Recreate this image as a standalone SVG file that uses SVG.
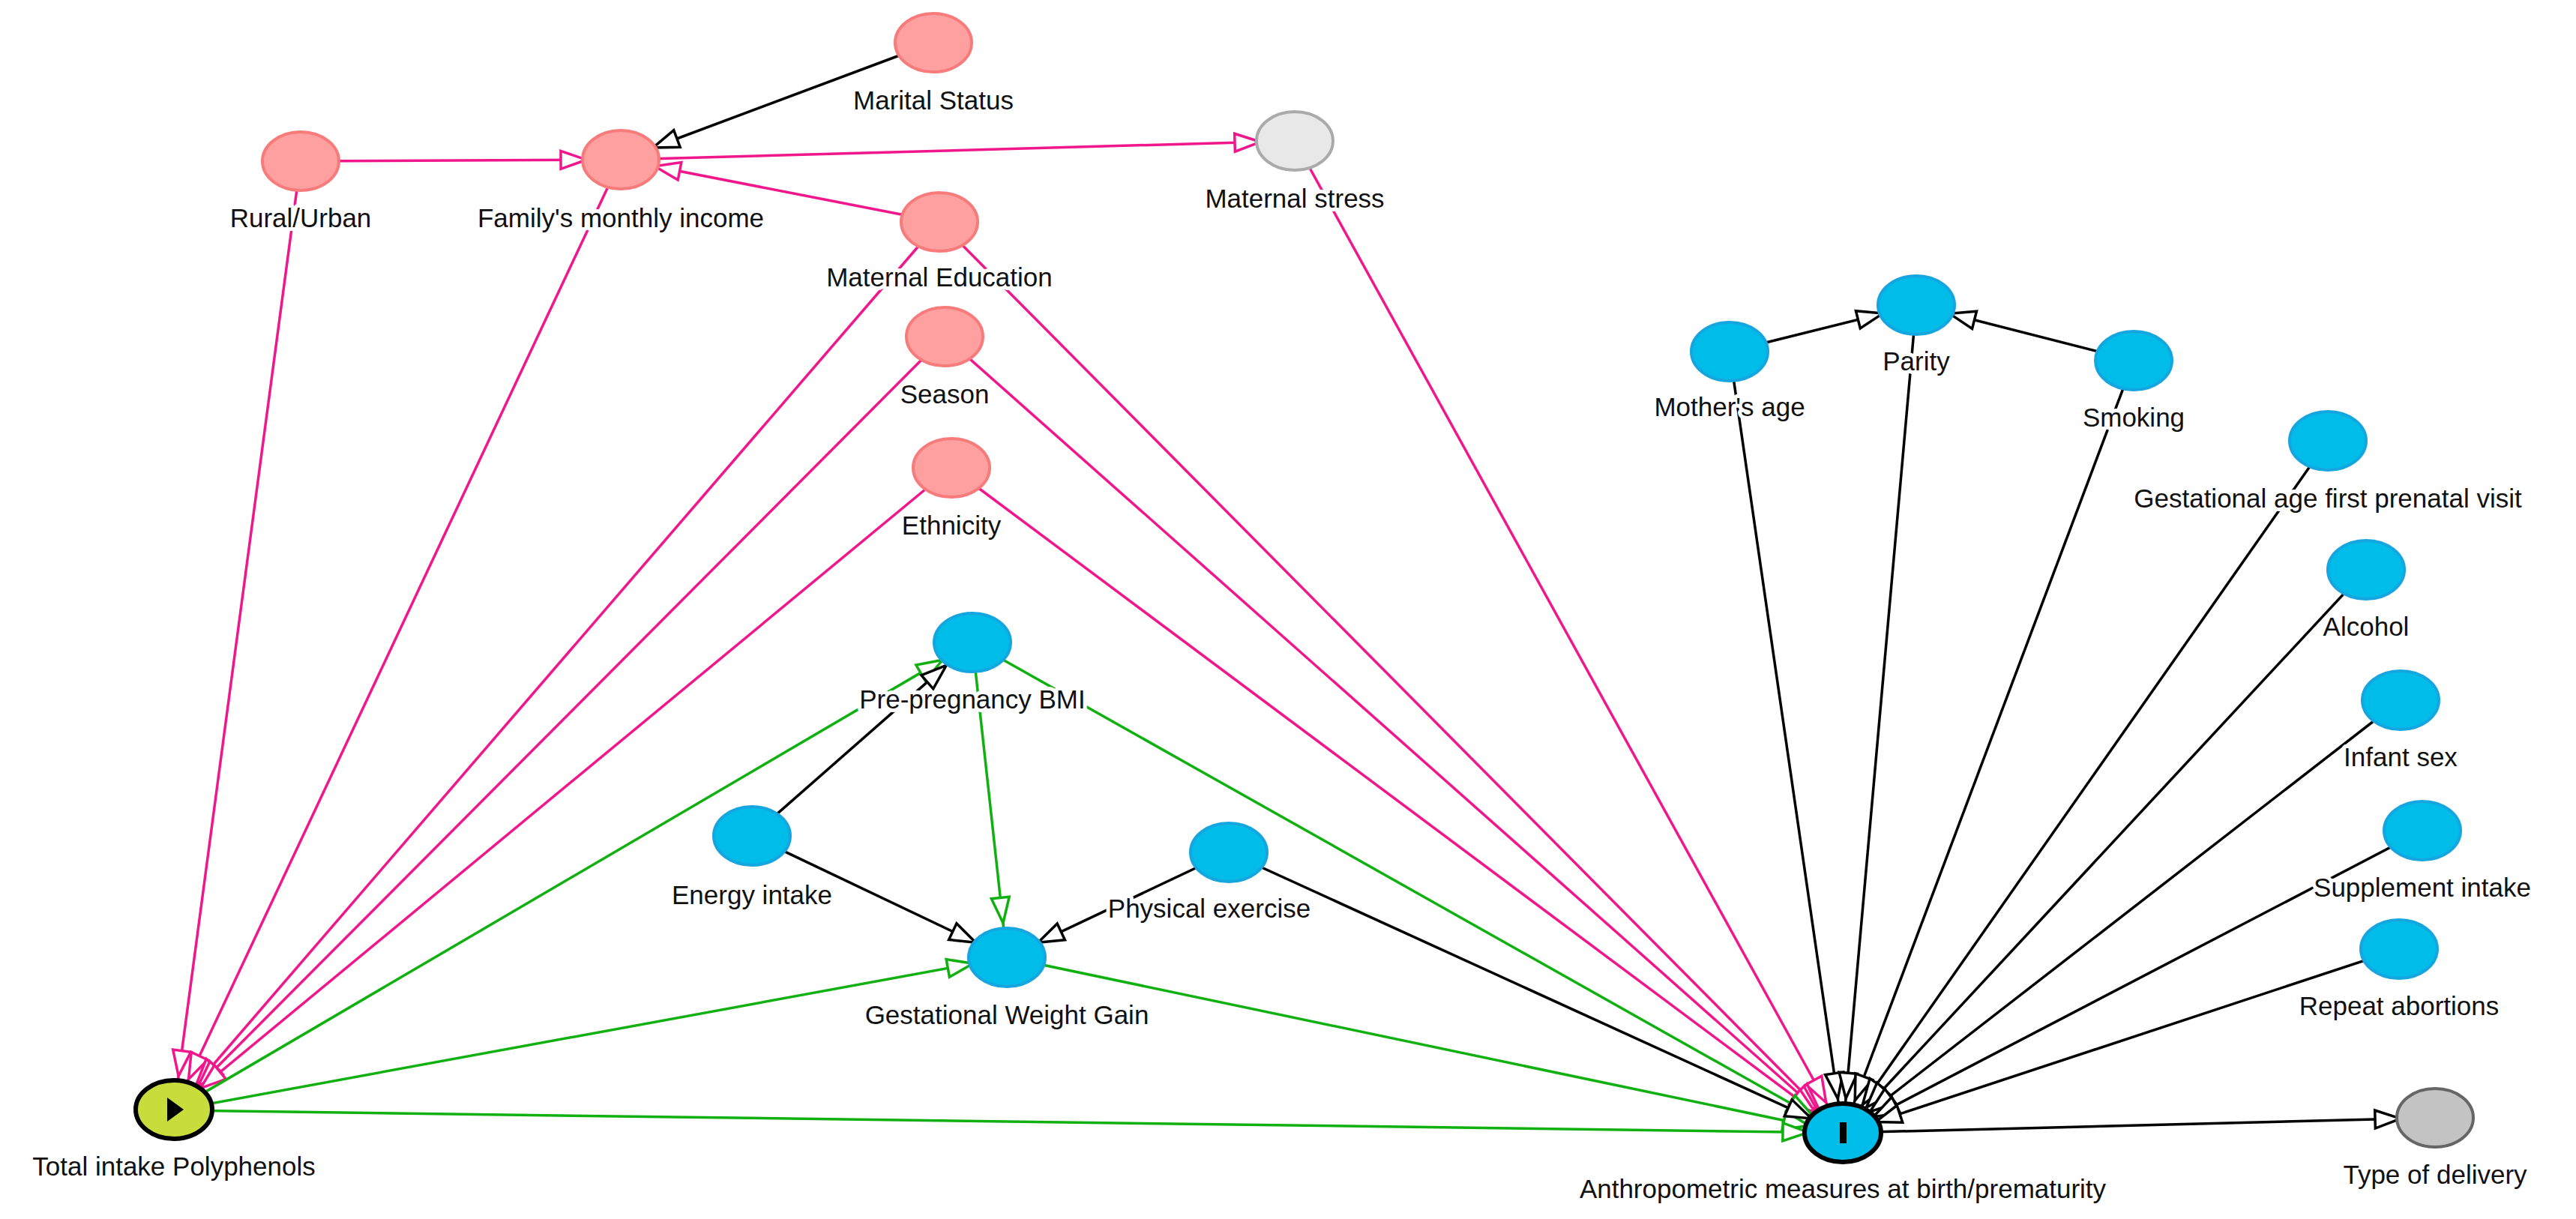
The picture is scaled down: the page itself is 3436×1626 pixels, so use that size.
<svg xmlns="http://www.w3.org/2000/svg" width="3436" height="1626" viewBox="0 0 3436 1626">
<style>
.e{fill:none;stroke-width:3.5}
.p{stroke:#f0178c;marker-end:url(#mp)}
.g{stroke:#10b010;marker-end:url(#mg)}
.k{stroke:#000;marker-end:url(#mk)}
.n1{fill:#ffa0a0;stroke:#f77b7b;stroke-width:4}
.n2{fill:#00bce8;stroke:#16a6df;stroke-width:4}
text{font-family:"Liberation Sans",Arial,sans-serif;font-size:35px;fill:#111;text-anchor:middle;stroke:#fff;stroke-width:10;paint-order:stroke;stroke-linejoin:round}
</style>
<defs>
<marker id="mp" viewBox="-90 -16 92 32" markerUnits="userSpaceOnUse" markerWidth="92" markerHeight="32" refX="0" refY="0" orient="auto"><path d="M-46,0 L-80,-12 L-80,12 Z" fill="#fff" stroke="#f0178c" stroke-width="3.5"/></marker>
<marker id="mg" viewBox="-90 -16 92 32" markerUnits="userSpaceOnUse" markerWidth="92" markerHeight="32" refX="0" refY="0" orient="auto"><path d="M-46,0 L-80,-12 L-80,12 Z" fill="#fff" stroke="#10b010" stroke-width="3.5"/></marker>
<marker id="mk" viewBox="-90 -16 92 32" markerUnits="userSpaceOnUse" markerWidth="92" markerHeight="32" refX="0" refY="0" orient="auto"><path d="M-46,0 L-80,-12 L-80,12 Z" fill="#fff" stroke="#000" stroke-width="3.5"/></marker>
</defs>
<rect width="3436" height="1626" fill="#fff"/>
<g id="connectors">
<path class="e k" d="M1245,57 L828,213"/>
<path class="e p" d="M401,215 L828,213"/>
<path class="e p" d="M828,213 L1727,188"/>
<path class="e p" d="M1253,296 L828,213"/>
<path class="e p" d="M401,215 L232,1481"/>
<path class="e p" d="M828,213 L232,1481"/>
<path class="e p" d="M1253,296 L232,1481"/>
<path class="e p" d="M1260,449 L232,1481"/>
<path class="e p" d="M1269,624 L232,1481"/>
<path class="e p" d="M1727,188 L2458,1511"/>
<path class="e p" d="M1253,296 L2458,1511"/>
<path class="e p" d="M1260,449 L2458,1511"/>
<path class="e p" d="M1269,624 L2458,1511"/>
<path class="e g" d="M232,1481 L1297,857"/>
<path class="e g" d="M1297,857 L1343,1277"/>
<path class="e g" d="M1297,857 L2458,1511"/>
<path class="e g" d="M232,1481 L1343,1277"/>
<path class="e g" d="M1343,1277 L2458,1511"/>
<path class="e g" d="M232,1481 L2458,1511"/>
<path class="e k" d="M1003,1115 L1297,857"/>
<path class="e k" d="M1003,1115 L1343,1277"/>
<path class="e k" d="M1639,1137 L1343,1277"/>
<path class="e k" d="M1639,1137 L2458,1511"/>
<path class="e k" d="M2307,469 L2556,407"/>
<path class="e k" d="M2846,481 L2556,407"/>
<path class="e k" d="M2307,469 L2458,1511"/>
<path class="e k" d="M2556,407 L2458,1511"/>
<path class="e k" d="M2846,481 L2458,1511"/>
<path class="e k" d="M3105,588 L2458,1511"/>
<path class="e k" d="M3156,760 L2458,1511"/>
<path class="e k" d="M3202,934 L2458,1511"/>
<path class="e k" d="M3231,1108 L2458,1511"/>
<path class="e k" d="M3200,1266 L2458,1511"/>
<path class="e k" d="M2458,1511 L3248,1491"/>
</g>
<g id="marital"><ellipse class="n1" cx="1245" cy="57" rx="51" ry="39"/><text x="1245" y="146">Marital Status</text></g>
<g id="rural"><ellipse class="n1" cx="401" cy="215" rx="51" ry="39"/><text x="401" y="303">Rural/Urban</text></g>
<g id="income"><ellipse class="n1" cx="828" cy="213" rx="51" ry="39"/><text x="828" y="303">Family's monthly income</text></g>
<g id="stress"><ellipse cx="1727" cy="188" rx="51" ry="39" fill="#e8e8e8" stroke="#aaa" stroke-width="4"/><text x="1727" y="277">Maternal stress</text></g>
<g id="education"><ellipse class="n1" cx="1253" cy="296" rx="51" ry="39"/><text x="1253" y="382">Maternal Education</text></g>
<g id="season"><ellipse class="n1" cx="1260" cy="449" rx="51" ry="39"/><text x="1260" y="538">Season</text></g>
<g id="ethnicity"><ellipse class="n1" cx="1269" cy="624" rx="51" ry="39"/><text x="1269" y="713">Ethnicity</text></g>
<g id="bmi"><ellipse class="n2" cx="1297" cy="857" rx="51" ry="39"/><text x="1297" y="945">Pre-pregnancy BMI</text></g>
<g id="energy"><ellipse class="n2" cx="1003" cy="1115" rx="51" ry="39"/><text x="1003" y="1206">Energy intake</text></g>
<g id="exercise"><ellipse class="n2" cx="1639" cy="1137" rx="51" ry="39"/><text x="1613" y="1224">Physical exercise</text></g>
<g id="gwg"><ellipse class="n2" cx="1343" cy="1277" rx="51" ry="39"/><text x="1343" y="1366">Gestational Weight Gain</text></g>
<g id="polyphenols"><ellipse cx="232" cy="1480" rx="51" ry="39" fill="#c8dc3c" stroke="#000" stroke-width="6"/><polygon points="223,1464 223,1496 245,1480" fill="#000"/><text x="232" y="1568">Total intake Polyphenols</text></g>
<g id="anthro"><ellipse cx="2458" cy="1511" rx="51" ry="39" fill="#00bce8" stroke="#000" stroke-width="6"/><rect x="2454" y="1497" width="9" height="28" fill="#000"/><text x="2458" y="1598">Anthropometric measures at birth/prematurity</text></g>
<g id="delivery"><ellipse cx="3248" cy="1491" rx="51" ry="39" fill="#c3c3c3" stroke="#666" stroke-width="4"/><text x="3248" y="1579">Type of delivery</text></g>
<g id="mothersage"><ellipse class="n2" cx="2307" cy="469" rx="51" ry="39"/><text x="2307" y="555">Mother's age</text></g>
<g id="parity"><ellipse class="n2" cx="2556" cy="407" rx="51" ry="39"/><text x="2556" y="494">Parity</text></g>
<g id="smoking"><ellipse class="n2" cx="2846" cy="481" rx="51" ry="39"/><text x="2846" y="569">Smoking</text></g>
<g id="gafpv"><ellipse class="n2" cx="3105" cy="588" rx="51" ry="39"/><text x="3105" y="677">Gestational age first prenatal visit</text></g>
<g id="alcohol"><ellipse class="n2" cx="3156" cy="760" rx="51" ry="39"/><text x="3156" y="848">Alcohol</text></g>
<g id="infantsex"><ellipse class="n2" cx="3202" cy="934" rx="51" ry="39"/><text x="3202" y="1022">Infant sex</text></g>
<g id="supplement"><ellipse class="n2" cx="3231" cy="1108" rx="51" ry="39"/><text x="3231" y="1196">Supplement intake</text></g>
<g id="abortions"><ellipse class="n2" cx="3200" cy="1266" rx="51" ry="39"/><text x="3200" y="1354">Repeat abortions</text></g>
</svg>
